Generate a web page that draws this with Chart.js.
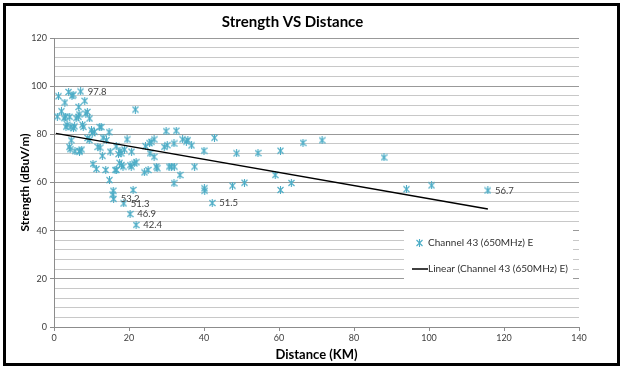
<!DOCTYPE html>
<html>
<head>
<meta charset="utf-8">
<script src="https://cdn.jsdelivr.net/npm/chart.js@4.4.1/dist/chart.umd.min.js"></script>
<style>
html, body { margin: 0; padding: 0; background: #fff; }
</style>
</head>
<body>
<canvas id="grafico" width="623" height="369"></canvas>
<script>
// distancia (km) y nivel de señal (dBuV/m)
const distance = [
    0.9, 1.2, 2.0, 2.9, 3.1, 3.2, 3.5, 3.9, 4.2, 4.5,
    4.6, 4.1, 4.3, 4.8, 5.1, 5.5, 5.2, 5.6, 5.9, 6.6,
    6.5, 6.8, 6.7, 7.1, 7.4, 7.8, 7.6, 8.2, 8.5, 8.9,
    9.5, 9.4, 10.0, 10.2, 10.4, 10.8, 11.3, 11.7, 12.2, 12.6,
    12.9, 13.1, 13.8, 14.0, 14.7, 14.8, 15.0, 15.8, 15.9, 15.7,
    16.3, 16.6, 17.2, 17.5, 17.9, 18.4, 18.6, 18.8, 19.5, 20.3,
    20.3, 20.7, 21.1, 21.4, 21.7, 21.9, 21.9, 24.1, 24.4, 25.1,
    25.6, 25.9, 26.7, 26.7, 27.3, 29.4, 29.9, 30.2, 30.7, 31.3,
    32.0, 32.0, 32.1, 32.6, 33.6, 34.3, 35.7, 36.7, 37.5, 40.0,
    40.1, 40.2, 42.2, 42.8, 47.6, 48.7, 50.8, 54.4, 59.0, 60.4,
    60.4, 63.3, 66.4, 71.5, 88.0, 94.0, 100.7, 115.7,
    2.7, 9.0, 12.3, 16.7, 18.0, 17.6, 25.5, 35.3, 20.6, 27.5, 6.9
];
const strength = [
    87.4, 95.8, 89.6, 93.2, 87.4, 83.1, 84.0, 97.6, 87.3, 83.1,
    77.5, 74.8, 73.8, 96.0, 96.5, 83.3, 82.5, 73.0, 86.7, 91.4,
    87.3, 72.8, 88.3, 97.8, 73.7, 83.1, 84.0, 93.9, 88.6, 89.3,
    86.6, 77.6, 81.7, 80.5, 67.7, 81.1, 65.6, 74.8, 83.0, 83.0,
    71.1, 78.6, 65.2, 77.6, 80.9, 61.0, 72.8, 56.6, 53.2, 55.0,
    65.2, 75.0, 71.8, 68.2, 72.1, 66.6, 51.3, 73.7, 77.9, 46.9,
    67.2, 72.8, 56.9, 67.9, 90.3, 42.4, 68.4, 64.2, 75.1, 65.2,
    72.1, 76.9, 77.9, 70.7, 66.6, 74.8, 81.3, 75.5, 66.6, 66.6,
    76.2, 59.7, 66.6, 81.5, 63.1, 77.9, 77.6, 75.4, 66.6, 73.2,
    57.6, 56.6, 51.5, 78.6, 58.7, 72.1, 59.9, 72.2, 63.1, 73.2,
    56.9, 59.8, 76.5, 77.5, 70.4, 57.2, 58.8, 56.7,
    86.7, 78.5, 74.5, 65.2, 67.3, 73.0, 76.3, 77.0, 66.6, 65.9, 73.1
];
// puntos que llevan etiqueta con su valor
const labelAt = [23, 48, 56, 59, 65, 92, 107];

// línea de tendencia (extremos leídos)
const trendX = [0.5, 115.7];
const trendY = [80.4, 49.0];

const serieName = 'Channel 43 (650MHz) E';
const trendName = 'Linear (Channel 43 (650MHz) E)';
const azul = '#4bacc6';
const fuente = "Lato, 'Liberation Sans', Arial, sans-serif";

function marcador() {
    const c = document.createElement('canvas');
    c.width = 7; c.height = 8;
    const g = c.getContext('2d');
    g.strokeStyle = azul;
    g.lineWidth = 1.1;
    g.beginPath();
    g.moveTo(0.5, 1); g.lineTo(6.5, 7);
    g.moveTo(6.5, 1); g.lineTo(0.5, 7);
    g.moveTo(3.5, 0); g.lineTo(3.5, 8);
    g.stroke();
    return c;
}
const estrella = marcador();

const etiquetas = {
    id: 'etiquetas',
    afterDatasetsDraw(chart) {
        const meta = chart.getDatasetMeta(0);
        const ctx = chart.ctx;
        ctx.save();
        ctx.font = '9.5px ' + fuente;
        ctx.fillStyle = '#404040';
        ctx.textBaseline = 'middle';
        labelAt.forEach(i => {
            const p = meta.data[i];
            ctx.fillText(strength[i].toFixed(1), p.x + 7, p.y);
        });
        ctx.restore();
    }
};

const leyenda = {
    id: 'leyenda',
    afterDraw(chart) {
        const ctx = chart.ctx;
        ctx.save();
        ctx.fillStyle = '#fff';
        ctx.fillRect(404, 226, 169, 58);
        ctx.drawImage(estrella, 416, 239);
        ctx.font = '10px ' + fuente;
        ctx.fillStyle = '#303030';
        ctx.textBaseline = 'middle';
        ctx.fillText(serieName, 428, 243);
        ctx.strokeStyle = '#000';
        ctx.lineWidth = 1.5;
        ctx.beginPath();
        ctx.moveTo(412, 269);
        ctx.lineTo(428, 269);
        ctx.stroke();
        ctx.fillText(trendName, 428, 269);
        // marco exterior
        ctx.strokeStyle = '#000';
        ctx.lineWidth = 3;
        ctx.strokeRect(4.5, 4.5, 614, 360);
        ctx.restore();
    }
};

const ctx = document.getElementById('grafico').getContext('2d');
const chart = new Chart(ctx, {
    type: 'scatter',
    data: {
        datasets: [
            {
                label: serieName,
                data: distance.map((d, i) => ({ x: d, y: strength[i] })),
                pointStyle: estrella,
                borderColor: azul,
                backgroundColor: azul,
                order: 2
            },
            {
                label: trendName,
                type: 'line',
                data: trendX.map((d, i) => ({ x: d, y: trendY[i] })),
                borderColor: '#000',
                borderWidth: 1.5,
                pointRadius: 0,
                fill: false,
                order: 1
            }
        ]
    },
    options: {
        responsive: false,
        animation: false,
        layout: {
            padding: { left: 6, right: 44, top: 0, bottom: 6 }
        },
        plugins: {
            legend: { display: false },
            tooltip: { enabled: false },
            title: {
                display: true,
                text: 'Strength VS Distance',
                color: '#000',
                font: { family: fuente, size: 15, weight: 'bold' },
                padding: { top: 13, bottom: 7 }
            }
        },
        scales: {
            x: {
                type: 'linear',
                min: 0,
                max: 140,
                ticks: {
                    stepSize: 20,
                    color: '#404040',
                    padding: 2,
                    font: { family: fuente, size: 9 }
                },
                grid: {
                    drawOnChartArea: false,
                    tickLength: 4,
                    color: '#8c8c8c'
                },
                border: { color: '#8c8c8c' },
                title: {
                    display: true,
                    text: 'Distance (KM)',
                    color: '#000',
                    font: { family: fuente, size: 13, weight: 'bold' },
                    padding: { top: 2, bottom: 0 }
                },
                afterFit(scale) { scale.height = 36; }
            },
            y: {
                min: 0,
                max: 120,
                ticks: {
                    stepSize: 4,
                    autoSkip: false,
                    color: '#404040',
                    padding: 3,
                    font: { family: fuente, size: 9 },
                    callback: v => (v % 20 === 0 ? v : '')
                },
                grid: {
                    tickLength: 4,
                    color: c => (c.tick && c.tick.value % 20 === 0 ? '#999999' : '#c8c8c8'),
                    tickColor: c => (c.tick && c.tick.value % 20 === 0 ? '#8c8c8c' : 'rgba(0,0,0,0)')
                },
                border: { color: '#8c8c8c' },
                title: {
                    display: true,
                    text: 'Strength (dBuV/m)',
                    color: '#000',
                    font: { family: fuente, size: 12, weight: 'bold' },
                    padding: { top: 12, bottom: 0 }
                },
                afterFit(scale) { scale.width = 48; }
            }
        }
    },
    plugins: [etiquetas, leyenda]
});
</script>
</body>
</html>
